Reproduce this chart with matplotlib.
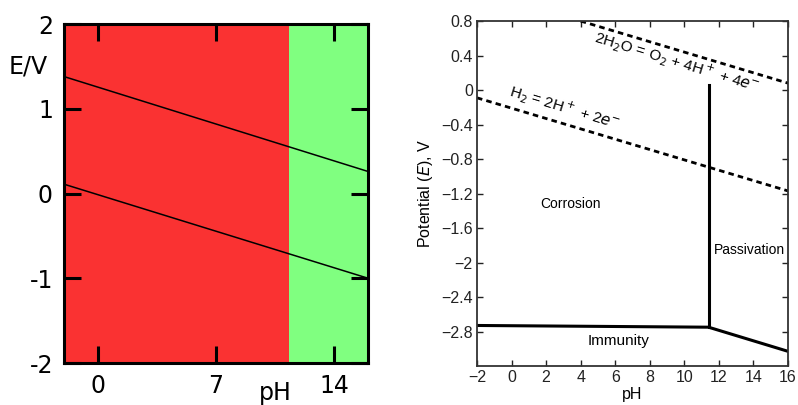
import matplotlib
matplotlib.use('Agg')
import matplotlib.pyplot as plt

plt.rcParams['axes.unicode_minus'] = False

# left panel: simple pourbaix sketch
ph_range = [-2, 16]
o2_line = [1.38, 0.26]      # E at pH -2 and 16
h2_line = [0.11, -1.0]
ph_passive = 11.3
left_xticks = [0, 7, 14]
left_yticks = [-2, -1, 0, 1, 2]

# right panel: scanned Mg diagram
o2_ph = [4.0, 16.0]
o2_E = [0.8, 0.08]
h2_ph = [-2.0, 16.0]
h2_E = [-0.09, -1.17]
vert_ph = [11.4, 11.4]
vert_E = [0.06, -2.75]
immune_ph = [-2.0, 11.4, 16.0]
immune_E = [-2.73, -2.75, -3.03]
right_xticks = [-2, 0, 2, 4, 6, 8, 10, 12, 14, 16]
right_yticks = [0.8, 0.4, 0, -0.4, -0.8, -1.2, -1.6, -2, -2.4, -2.8]

fig = plt.figure(figsize=(7.98, 4.05), dpi=100)

ax1 = fig.add_axes([0.0802, 0.1037, 0.381, 0.837])
ax1.axvspan(ph_range[0], ph_passive, color='#fa3232', lw=0)
ax1.axvspan(ph_passive, ph_range[1], color='#80ff80', lw=0)
ax1.plot(ph_range, o2_line, color='black', lw=1.1)
ax1.plot(ph_range, h2_line, color='black', lw=1.1)
ax1.set_xlim(ph_range)
ax1.set_ylim(-2, 2)
ax1.set_xticks(left_xticks)
ax1.set_yticks(left_yticks)
ax1.tick_params(direction='in', length=12, width=2.2, labelsize=17,
                top=True, right=True, pad=8)
for s in ax1.spines.values():
    s.set_linewidth(2.2)
fig.text(0.035, 0.837, 'E/V', fontsize=17, ha='center', va='center')
fig.text(0.345, 0.03, 'pH', fontsize=17, ha='center', va='center')

ax2 = fig.add_axes([0.5977, 0.0963, 0.3898, 0.8517])
ax2.plot(o2_ph, o2_E, color='black', lw=2, ls=(0, (2, 1.5)))
ax2.plot(h2_ph, h2_E, color='black', lw=2, ls=(0, (2, 1.5)))
ax2.plot(vert_ph, vert_E, color='black', lw=2.2)
ax2.plot(immune_ph, immune_E, color='black', lw=2.2)
ax2.set_xlim(-2, 16)
ax2.set_ylim(-3.2, 0.8)
ax2.set_xticks(right_xticks)
ax2.set_yticks(right_yticks)
ax2.set_yticklabels([('%g' % v).replace('-', '\u2212') for v in right_yticks])
ax2.set_xticklabels([('%g' % v).replace('-', '\u2212') for v in right_xticks])
ax2.tick_params(direction='in', length=4, width=1, labelsize=11.5,
                top=True, right=True, colors='#222222', pad=3)
for lab in ax2.get_xticklabels() + ax2.get_yticklabels():
    lab.set_fontfamily('Liberation Sans')
for s in ax2.spines.values():
    s.set_linewidth(1.3)
    s.set_color('#333333')

ax2.set_xlabel('pH', fontsize=11.5, family='Liberation Sans', labelpad=1)
ax2.set_ylabel(r'Potential ($E$), V', fontsize=11.5, family='Liberation Sans', labelpad=4)
ax2.text(3.4, -1.32, 'Corrosion', fontsize=10, family='Liberation Sans', ha='center', va='center')
ax2.text(13.75, -1.86, 'Passivation', fontsize=10, family='Liberation Sans', ha='center', va='center')
ax2.text(6.2, -2.91, 'Immunity', fontsize=11, family='Liberation Sans', ha='center', va='center')
ax2.text(9.6, 0.33, r'2H$_2$O = O$_2$ + 4H$^+$ + 4$e^{-}$', fontsize=11, family='Liberation Sans',
         ha='center', va='center', rotation=-17, rotation_mode='anchor')
ax2.text(3.1, -0.2, r'H$_2$ = 2H$^+$ + 2$e^{-}$', fontsize=11, family='Liberation Sans',
         ha='center', va='center', rotation=-17, rotation_mode='anchor')

fig.savefig('out.png', dpi=100)
